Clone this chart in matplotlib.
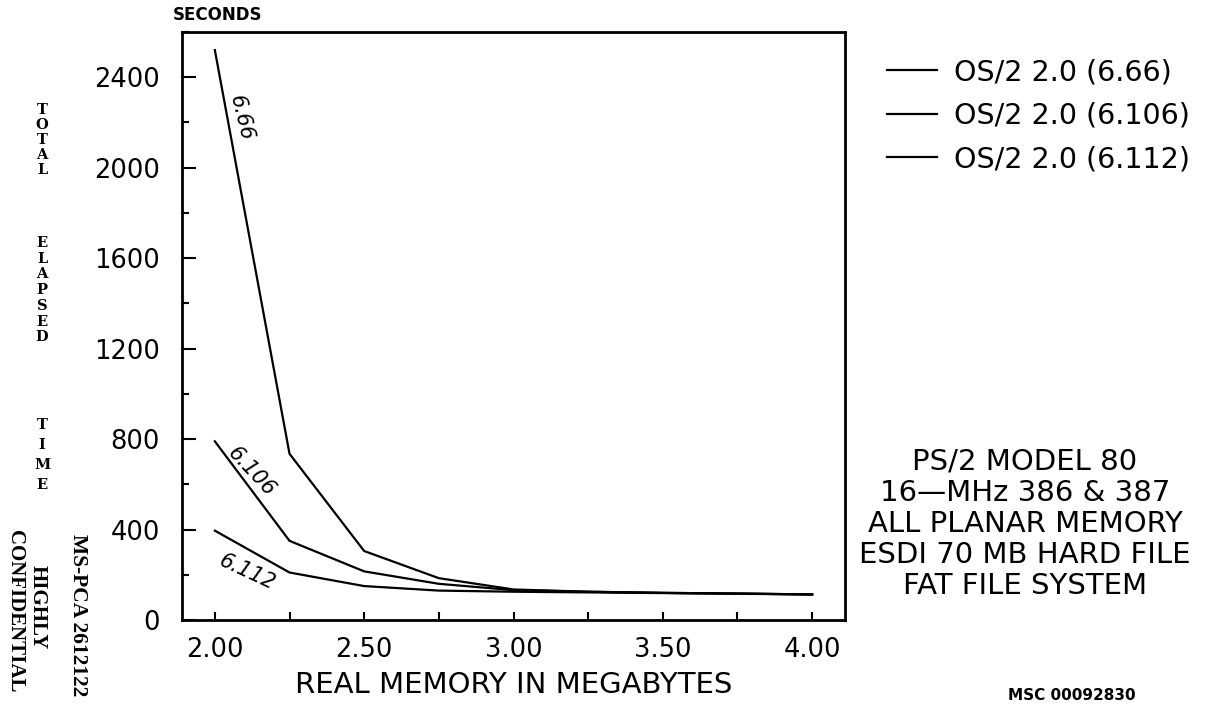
import numpy as np
import matplotlib
matplotlib.use('Agg')
import matplotlib.pyplot as plt
from matplotlib.ticker import MultipleLocator, FormatStrFormatter

# data
memory_mb = [2.00, 2.25, 2.50, 2.75, 3.00, 3.25, 3.50, 3.75, 4.00]
secs_666 = [2520, 735, 305, 185, 135, 125, 120, 117, 113]
secs_6106 = [790, 350, 215, 160, 132, 125, 120, 117, 113]
secs_6112 = [395, 210, 150, 130, 125, 122, 119, 116, 113]
series_labels = ['OS/2 2.0 (6.66)', 'OS/2 2.0 (6.106)', 'OS/2 2.0 (6.112)']
hand_notes = ['6.66', '6.106', '6.112']

info_lines = ['PS/2 MODEL 80', '16\u2014MHz 386 & 387', 'ALL PLANAR MEMORY',
              'ESDI 70 MB HARD FILE', 'FAT FILE SYSTEM']
ylabel_words = ['TOTAL', 'ELAPSED', 'TIME']

W, H = 1215, 709
fig = plt.figure(figsize=(W / 100, H / 100), dpi=100)
fig.patch.set_facecolor('white')

def fx(px):
    return px / W

def fy(py):
    return 1 - py / H

ax = fig.add_axes([fx(182), fy(620), fx(845) - fx(182), fy(32) - fy(620)])

lines = []
for ys, lab in zip([secs_666, secs_6106, secs_6112], series_labels):
    ln, = ax.plot(memory_mb, ys, color='black', lw=1.6, label=lab)
    lines.append(ln)

ax.set_xlim(1.89, 4.11)
ax.set_ylim(0, 2600)
ax.xaxis.set_major_locator(MultipleLocator(0.5))
ax.xaxis.set_minor_locator(MultipleLocator(0.25))
ax.xaxis.set_major_formatter(FormatStrFormatter('%.2f'))
ax.yaxis.set_major_locator(MultipleLocator(400))
ax.yaxis.set_minor_locator(MultipleLocator(200))
ax.set_xticks(np.arange(2.0, 4.01, 0.5))
ax.set_yticks(np.arange(0, 2401, 400))

ax.tick_params(axis='both', which='both', direction='in', width=1.5,
               colors='black', labelsize=18.5)
ax.tick_params(axis='y', which='major', length=10, pad=16)
ax.tick_params(axis='y', which='minor', length=5)
ax.tick_params(axis='x', which='both', length=6, pad=12)
for s in ax.spines.values():
    s.set_linewidth(2)

ax.set_xlabel('REAL MEMORY IN MEGABYTES', fontsize=21, labelpad=6)

# handwritten version marks
note_pos = [(2.087, 2219, -76), (2.123, 655, -47), (2.11, 210, -25)]
for txt, (x, y, rot) in zip(hand_notes, note_pos):
    ax.text(x, y, txt, rotation=rot, fontsize=15, fontstyle='italic',
            ha='center', va='center', rotation_mode='anchor')

fig.text(fx(218), fy(15), 'SECONDS', fontsize=12, fontweight='bold',
         ha='center', va='center')

# stacked y label letters
for word, top, pitch in zip(ylabel_words, [110, 243, 425], [15.0, 15.7, 20.0]):
    for i, ch in enumerate(word):
        fig.text(fx(42), fy(top + i * pitch), ch, fontsize=10.5, fontweight='bold',
                 family='DejaVu Serif', ha='center', va='center')

# stamps on the left edge
fig.text(fx(15), fy(611), 'CONFIDENTIAL', rotation=-90, fontsize=15,
         fontweight='bold', family='Liberation Serif', ha='center', va='center')
fig.text(fx(38), fy(607), 'HIGHLY', rotation=-90, fontsize=15,
         fontweight='bold', family='Liberation Serif', ha='center', va='center')
fig.text(fx(78), fy(615), 'MS-PCA 2612122', rotation=-90, fontsize=15.5,
         fontweight='bold', family='Liberation Serif', ha='center', va='center')

fig.legend(handles=lines, loc='upper left', bbox_to_anchor=(fx(887), fy(58)),
           frameon=False, fontsize=20.5, handlelength=1.75, handletextpad=0.6,
           labelspacing=0.55, borderpad=0, borderaxespad=0)

for i, line in enumerate(info_lines):
    fig.text(fx(1025), fy(462 + i * 31), line, fontsize=21, ha='center', va='center')

fig.text(fx(1072), fy(695), 'MSC 00092830', fontsize=11, fontweight='bold',
         ha='center', va='center')

fig.savefig('out.png', dpi=100, facecolor='white')
